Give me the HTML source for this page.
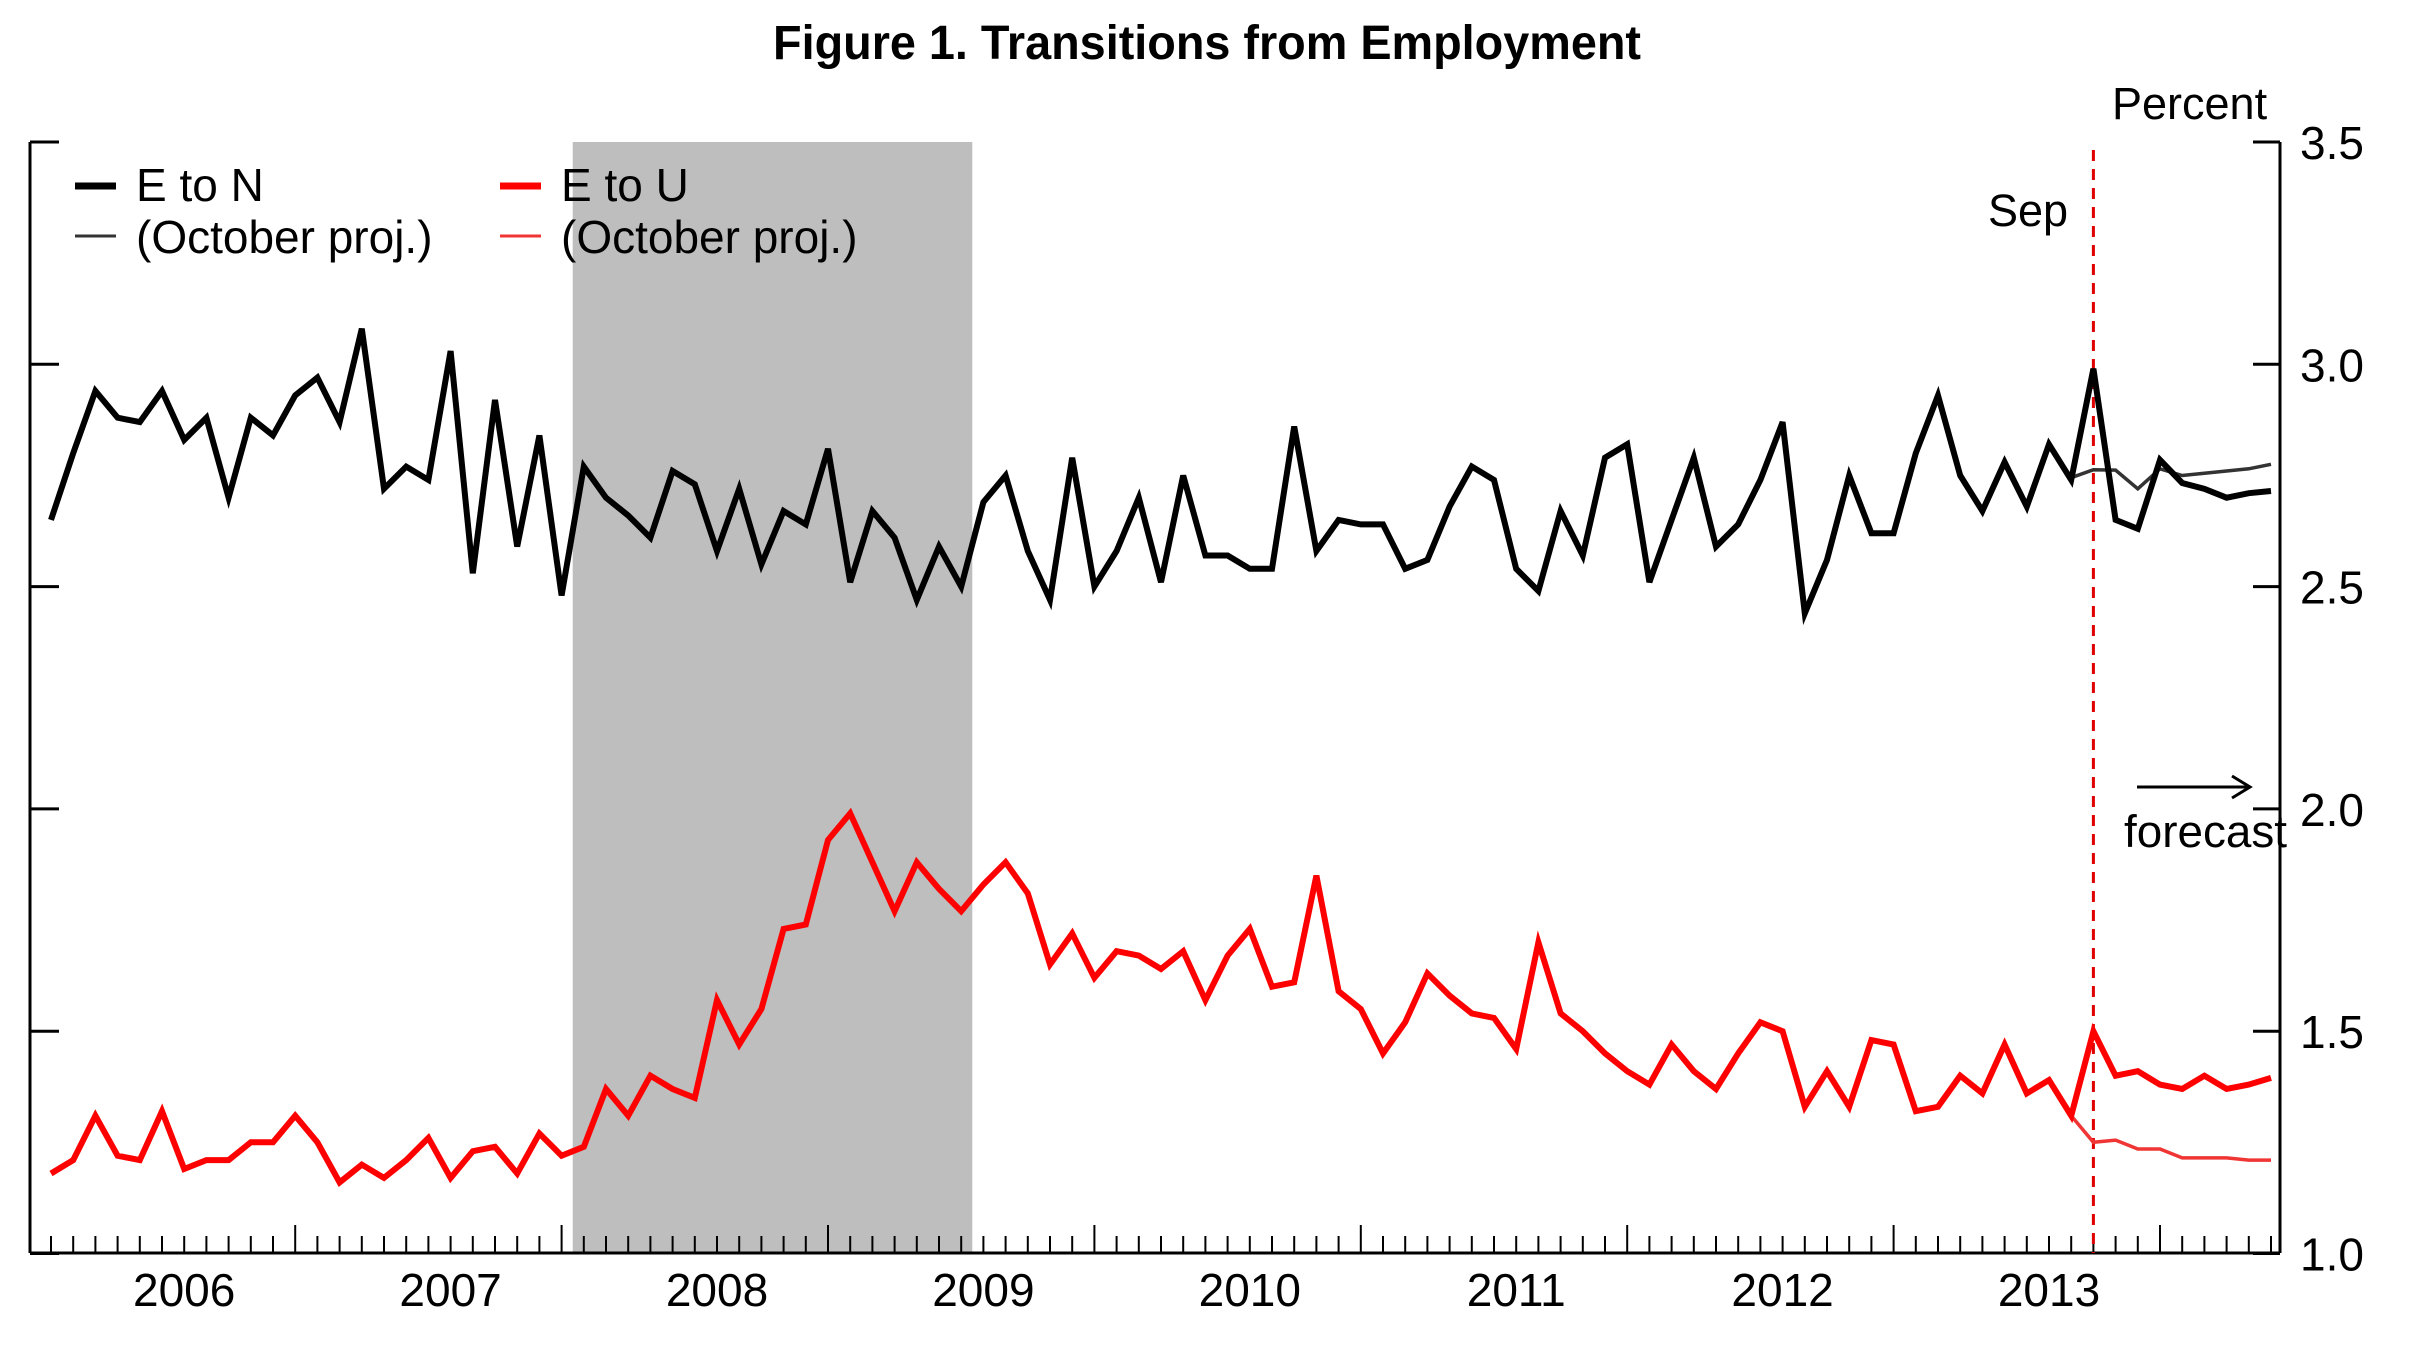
<!DOCTYPE html>
<html><head><meta charset="utf-8"><style>
html,body{margin:0;padding:0;background:#fff;}
svg{display:block;font-family:"Liberation Sans",Arial,sans-serif;}
</style></head><body>
<svg id="chart" width="2417" height="1350" viewBox="0 0 2417 1350" xmlns="http://www.w3.org/2000/svg">
<text x="773" y="59" font-size="48" font-weight="bold" textLength="868" lengthAdjust="spacingAndGlyphs">Figure 1. Transitions from Employment</text>
<rect id="rec" x="573" y="142" width="399" height="1111" fill="#bebebe"/>
<g id="axes"></g>
<g id="series"></g>
<g>
<line x1="75" y1="186" x2="116" y2="186" stroke="#000" stroke-width="7"/>
<text x="136" y="201" font-size="46">E to N</text>
<line x1="75" y1="236" x2="116" y2="236" stroke="#333" stroke-width="3"/>
<text x="136" y="253" font-size="46">(October proj.)</text>
<line x1="500" y1="186" x2="541" y2="186" stroke="#f00" stroke-width="7"/>
<text x="561" y="201" font-size="46">E to U</text>
<line x1="500" y1="236" x2="541" y2="236" stroke="#f03535" stroke-width="3"/>
<text x="561" y="253" font-size="46">(October proj.)</text>
</g>
<text x="2112" y="119" font-size="45">Percent</text>
<text x="1988" y="226" font-size="45">Sep</text>
<line x1="2137" y1="787" x2="2248" y2="787" stroke="#000" stroke-width="3"/>
<polyline points="2232,776 2250,787 2232,798" fill="none" stroke="#000" stroke-width="3"/>
<text x="2124" y="847" font-size="45" textLength="163" lengthAdjust="spacingAndGlyphs">forecast</text>
</svg>
<script>
const months = 101;
const yearLabels = ["2006","2007","2008","2009","2010","2011","2012","2013"];
const yTicks = [1.0,1.5,2.0,2.5,3.0,3.5];
const eToN = [2.65,2.80,2.94,2.88,2.87,2.94,2.83,2.88,2.70,2.88,2.84,2.93,2.97,2.87,3.08,2.72,2.77,2.74,3.03,2.53,2.92,2.59,2.84,2.48,2.77,2.70,2.66,2.61,2.76,2.73,2.58,2.72,2.55,2.67,2.64,2.81,2.51,2.67,2.61,2.47,2.59,2.50,2.69,2.75,2.58,2.47,2.79,2.50,2.58,2.70,2.51,2.75,2.57,2.57,2.54,2.54,2.86,2.58,2.65,2.64,2.64,2.54,2.56,2.68,2.77,2.74,2.54,2.49,2.67,2.57,2.79,2.82,2.51,2.65,2.79,2.59,2.64,2.74,2.87,2.44,2.56,2.75,2.62,2.62,2.80,2.93,2.75,2.67,2.78,2.68,2.82,2.74,2.99,2.65,2.63,2.785,2.733,2.72,2.70,2.71,2.715];
const eToU = [1.18,1.21,1.31,1.22,1.21,1.32,1.19,1.21,1.21,1.25,1.25,1.31,1.25,1.16,1.20,1.17,1.21,1.26,1.17,1.23,1.24,1.18,1.27,1.22,1.24,1.37,1.31,1.40,1.37,1.35,1.57,1.47,1.55,1.73,1.74,1.93,1.99,1.88,1.77,1.88,1.82,1.77,1.83,1.88,1.81,1.65,1.72,1.62,1.68,1.67,1.64,1.68,1.57,1.67,1.73,1.60,1.61,1.85,1.59,1.55,1.45,1.52,1.63,1.58,1.54,1.53,1.46,1.70,1.54,1.50,1.45,1.41,1.38,1.47,1.41,1.37,1.45,1.52,1.50,1.33,1.41,1.33,1.48,1.47,1.32,1.33,1.40,1.36,1.47,1.36,1.39,1.31,1.50,1.40,1.41,1.38,1.37,1.40,1.37,1.38,1.395];
const projStart = 91;
const eToNProj = [2.745,2.763,2.762,2.72,2.765,2.75,2.755,2.76,2.765,2.775];
const eToUProj = [1.31,1.25,1.255,1.235,1.235,1.215,1.215,1.215,1.21,1.21];
const recStart = 23.5, recEnd = 41.5;
const sepIndex = 92;

const NS = "http://www.w3.org/2000/svg";
const xs = i => 51 + 22.2 * i;
const ys = v => 142 + (3.5 - v) * 444.6;
const LEFT = 30, RIGHT = 2280, TOP = 142, BOT = 1253;
function mk(tag, attrs){ const e = document.createElementNS(NS, tag); for (const k in attrs) e.setAttribute(k, attrs[k]); return e; }
const axes = document.getElementById('axes');
const ser = document.getElementById('series');
const rec = document.getElementById('rec');
rec.setAttribute('x', xs(recStart)); rec.setAttribute('width', xs(recEnd) - xs(recStart));

let l = mk('line',{x1:LEFT,y1:TOP,x2:LEFT,y2:BOT,stroke:'#000','stroke-width':3});


axes.appendChild(l);
l = mk('line',{x1:RIGHT,y1:TOP,x2:RIGHT,y2:BOT,stroke:'#000','stroke-width':3});


axes.appendChild(l);
l = mk('line',{x1:LEFT,y1:BOT,x2:RIGHT,y2:BOT,stroke:'#000','stroke-width':3});


axes.appendChild(l);

yTicks.forEach(v => {
  const y = ys(v);
  let t = mk('line',{x1:LEFT,y1:y,x2:LEFT+29,y2:y,stroke:'#000','stroke-width':3});
  
  
  axes.appendChild(t);
  t = mk('line',{x1:RIGHT-27,y1:y,x2:RIGHT,y2:y,stroke:'#000','stroke-width':3});
  
  
  axes.appendChild(t);
  const tx = mk('text',{x:2300,y:y+17,'font-size':46});
  tx.textContent = v.toFixed(1);
  
  
  axes.appendChild(tx);
});
for (let i = 0; i < months; i++) {
  const major = (i % 12) === 11;
  const t = mk('line',{x1:xs(i),y1:BOT,x2:xs(i),y2:BOT-(major?28:17),stroke:'#000','stroke-width':2});
  
  
  axes.appendChild(t);
}
yearLabels.forEach((lab, k) => {
  const tx = mk('text',{x:xs(6+12*k),y:1306,'font-size':46,'text-anchor':'middle'});
  tx.textContent = lab;
  
  
  axes.appendChild(tx);
});

function line(vals, start, color, w, name){
  const pts = vals.map((v,i)=> xs(start+i).toFixed(1)+','+ys(v).toFixed(1)).join(' ');
  const p = mk('polyline',{points:pts,fill:'none',stroke:color,'stroke-width':w,'stroke-linejoin':'miter','stroke-miterlimit':4});
  
  
  ser.appendChild(p);
}
const sep = mk('line',{x1:xs(sepIndex),y1:150,x2:xs(sepIndex),y2:BOT,stroke:'#e00000','stroke-width':3,'stroke-dasharray':'11 8'});


ser.appendChild(sep);
line(eToNProj, projStart, '#333', 3.5, 'e-to-n-october-proj-line');
line(eToUProj, projStart, '#f03535', 3.5, 'e-to-u-october-proj-line');
line(eToN, 0, '#000', 6, 'e-to-n-line');
line(eToU, 0, '#f00', 6, 'e-to-u-line');
</script>
</body></html>
